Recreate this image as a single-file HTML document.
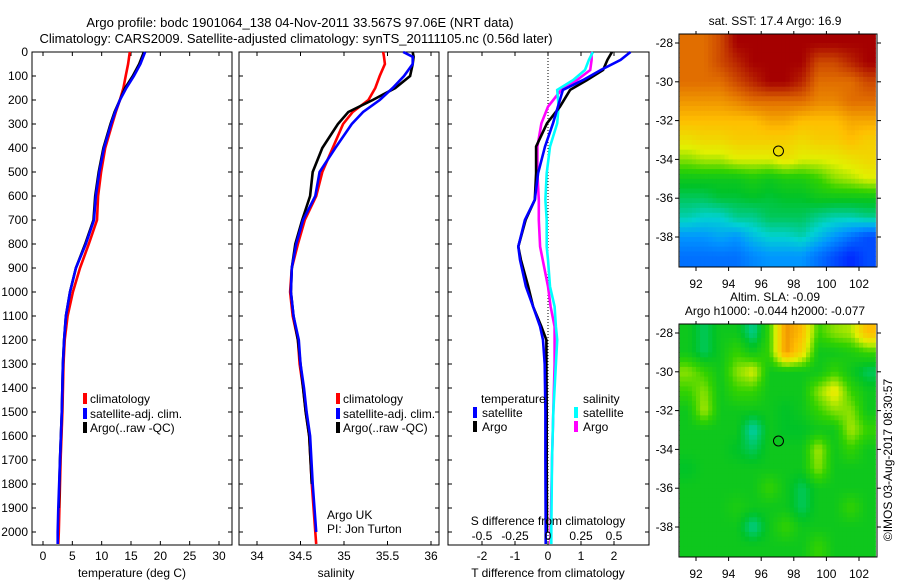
<!DOCTYPE html>
<html><head><meta charset="utf-8"><style>
html,body{margin:0;padding:0;background:#fff;}
svg{display:block;font-family:"Liberation Sans",sans-serif;}
text{font-size:12px;fill:#000;}
</style></head><body>
<svg id="fig" width="900" height="580" viewBox="0 0 900 580">
<text x="300" y="27" text-anchor="middle" style="font-size:13px">Argo profile: bodc 1901064_138 04-Nov-2011 33.567S 97.06E (NRT data)</text>
<text x="296" y="43" text-anchor="middle" style="font-size:13px">Climatology: CARS2009. Satellite-adjusted climatology: synTS_20111105.nc (0.56d later)</text>
<g id="g"></g>
</svg>
<script>
// ---------- data ----------
const tDepth = [0,50,100,150,200,250,300,400,500,600,700,800,900,1000,1100,1200,1300,1500,1700,1900,2000,2050];
const tempClim = [14.8,14.5,14.1,13.7,13.1,12.4,11.8,10.6,9.9,9.4,9.2,7.8,6.3,5.1,4.2,3.7,3.5,3.3,3.0,2.8,2.7,2.6];
const tempSat  = [17.4,16.6,15.5,14.2,13.1,12.3,11.6,10.4,9.6,9.0,8.7,7.3,5.6,4.6,3.9,3.6,3.4,3.2,2.9,2.6,2.5,2.5];
const tempArgo = [17.2,16.4,15.3,14.0,13.1,12.2,11.5,10.3,9.5,8.9,8.6,7.2,5.6,4.6,3.9,3.6,3.4,3.2,2.9,2.7];
const sDepth = [0,20,50,100,150,200,250,300,400,500,600,700,800,900,1000,1100,1200,1300,1400,1500,1600,1800,2000,2050];
const salClim = [35.45,35.46,35.47,35.41,35.36,35.28,35.10,34.99,34.87,34.75,34.68,34.55,34.47,34.40,34.38,34.41,34.47,34.49,34.53,34.56,34.60,34.63,34.67,34.68];
const salSat  = [35.68,35.79,35.79,35.69,35.56,35.41,35.22,35.09,34.90,34.72,34.67,34.53,34.45,34.40,34.39,34.42,34.48,34.50,34.54,34.57,34.61,34.64,34.68];
const salArgo = [35.79,35.80,35.79,35.76,35.59,35.33,35.05,34.93,34.75,34.64,34.61,34.52,34.44,34.40,34.39,34.42,34.47,34.50,34.53,34.56,34.60,34.63];
const dDepth = [0,33,75,117,158,228,297,394,505,616,700,811,866,977,1061,1144,1200,1300,1500,1700,2000,2050];
const dTSat  = [2.5,2.2,1.6,1.06,0.45,0.3,0.15,-0.09,-0.3,-0.4,-0.7,-0.9,-0.85,-0.67,-0.45,-0.24,-0.15,-0.1,-0.08,-0.08,-0.07,-0.07];
const dTArgo = [1.94,1.8,1.67,1.18,0.67,0.36,-0.03,-0.36,-0.36,-0.4,-0.68,-0.9,-0.82,-0.6,-0.45,-0.2,-0.05,-0.05,-0.04,-0.04,-0.03];
const dSSat  = [0.34,0.31,0.28,0.19,0.07,0.08,0.07,0.015,-0.01,-0.02,-0.01,-0.01,0.0,0.015,0.05,0.06,0.07,0.06,0.04,0.03,0.025,0.025];
const dSArgo = [0.33,0.33,0.32,0.22,0.1,0.0,-0.05,-0.08,-0.08,-0.07,-0.07,-0.06,-0.04,0.0,0.02,0.05,0.05,0.05,0.04,0.03,0.02,0.02];
const depthTicks = [0,100,200,300,400,500,600,700,800,900,1000,1100,1200,1300,1400,1500,1600,1700,1800,1900,2000];
const tempTicks = [0,5,10,15,20,25,30];
const salTicks = [34,34.5,35,35.5,36];
const salTickLabels = ["34","34.5","35","35.5","36"];
const dTTicks = [-2,-1,0,1,2];
const dSTicks = [-0.5,-0.25,0,0.25,0.5];
const dSTickLabels = ["-0.5","-0.25","0","0.25","0.5"];
const lonTicks = [92,94,96,98,100,102];
const latTicks = [-28,-30,-32,-34,-36,-38];
const argoLon = 97.06, argoLat = -33.567;
const sstGrid = [
[0.85,0.85,0.9,1,1,1,1,1,1,1,1,1],
[0.85,0.85,0.9,0.95,1,1,1,1,0.9,0.9,0.95,1],
[0.85,0.85,0.85,0.9,0.95,1,1,0.95,0.85,0.85,0.85,0.9],
[0.8,0.8,0.8,0.82,0.85,0.85,0.85,0.85,0.82,0.82,0.85,0.85],
[0.75,0.75,0.75,0.75,0.75,0.78,0.78,0.75,0.75,0.75,0.78,0.78],
[0.68,0.7,0.7,0.72,0.72,0.72,0.72,0.7,0.72,0.72,0.75,0.72],
[0.6,0.62,0.62,0.65,0.65,0.65,0.68,0.65,0.65,0.66,0.68,0.7],
[0.5,0.5,0.5,0.5,0.52,0.5,0.52,0.52,0.55,0.6,0.62,0.65],
[0.45,0.45,0.47,0.47,0.48,0.47,0.48,0.48,0.5,0.5,0.5,0.5],
[0.4,0.38,0.38,0.42,0.42,0.45,0.45,0.45,0.42,0.4,0.4,0.42],
[0.3,0.3,0.32,0.3,0.35,0.38,0.38,0.4,0.35,0.3,0.25,0.2],
[0.25,0.25,0.25,0.25,0.28,0.3,0.3,0.3,0.25,0.2,0.15,0.2]];
const slaGrid = [
[0.5,0.45,0.5,0.5,0.42,0.55,0.8,0.75,0.55,0.6,0.62,0.75],
[0.5,0.45,0.5,0.55,0.5,0.55,0.8,0.7,0.5,0.5,0.52,0.55],
[0.6,0.55,0.5,0.6,0.65,0.5,0.5,0.5,0.5,0.55,0.5,0.45],
[0.55,0.6,0.5,0.55,0.55,0.5,0.5,0.5,0.6,0.68,0.55,0.5],
[0.5,0.62,0.5,0.5,0.5,0.5,0.48,0.5,0.55,0.6,0.6,0.5],
[0.5,0.5,0.5,0.5,0.4,0.5,0.48,0.48,0.5,0.5,0.62,0.55],
[0.5,0.5,0.5,0.48,0.45,0.5,0.5,0.5,0.62,0.5,0.55,0.5],
[0.48,0.5,0.5,0.5,0.5,0.5,0.5,0.5,0.6,0.5,0.5,0.5],
[0.5,0.5,0.5,0.5,0.5,0.55,0.5,0.45,0.5,0.5,0.5,0.5],
[0.5,0.5,0.5,0.52,0.5,0.5,0.5,0.45,0.5,0.5,0.55,0.5],
[0.5,0.5,0.5,0.5,0.42,0.5,0.55,0.5,0.5,0.5,0.5,0.5],
[0.5,0.5,0.5,0.5,0.5,0.5,0.5,0.5,0.55,0.5,0.5,0.5]];

// ---------- helpers ----------
const NS="http://www.w3.org/2000/svg";
const G=document.getElementById('g');
function el(tag,attrs,parent){const e=document.createElementNS(NS,tag);for(const k in attrs)e.setAttribute(k,attrs[k]);(parent||G).appendChild(e);return e;}
function txt(x,y,s,anchor,parent){const t=el('text',{x:x,y:y,'text-anchor':anchor||'start'},parent);t.textContent=s;return t;}
const yD = d => 52 + d*0.24;
const PT=545;
const xTemp = v => 43 + v*5.867;
const xSal = v => 257 + (v-34)*87;
const xDT = v => 548 + v*33;
const xDS = v => 548 + v*132;
const xLon = v => 696 + (v-92)*16.3;
const yLat1 = v => 43 + (-28 - v)*19.4;
const yLat2 = v => 333 + (-28 - v)*19.4;

function frame(x0,x1,name){
  const r=el('rect',{x:x0,y:52,width:x1-x0,height:PT-52,fill:'none',stroke:'#000','stroke-width':1});
  
  
}
function series(xs,fx,depths,color,name){
  const pts=xs.map((v,i)=>fx(v).toFixed(1)+','+yD(depths[i]).toFixed(1)).join(' ');
  const p=el('polyline',{points:pts,fill:'none',stroke:color,'stroke-width':2.6,'stroke-linejoin':'miter'});
  
  
}
function vTicksX(x0,x1,ticks,fx){ticks.forEach(t=>{const x=fx(t);el('line',{x1:x,x2:x,y1:PT,y2:PT-4,stroke:'#000'});el('line',{x1:x,x2:x,y1:52,y2:56,stroke:'#000'});});}
function depthTicksFor(x0,x1){depthTicks.forEach(d=>{const y=yD(d);el('line',{x1:x0,x2:x0+4,y1:y,y2:y,stroke:'#000'});el('line',{x1:x1,x2:x1-4,y1:y,y2:y,stroke:'#000'});});}
function legendMark(x,y,color,name){const r=el('rect',{x:x,y:y-10,width:4,height:11,fill:color});}

// ---------- panel 1 ----------
frame(32,232,'temperature-panel');
depthTicksFor(32,232);
vTicksX(32,232,tempTicks,xTemp);
depthTicks.forEach(d=>{const t=txt(28,yD(d)+4,String(d),'end');});
tempTicks.forEach(v=>{const t=txt(xTemp(v),560,String(v),'middle');});
{const t=txt(132,577,'temperature (deg C)','middle');}
series(tempClim,xTemp,tDepth,'#ff0000','temp-climatology-line');
series(tempArgo,xTemp,tDepth,'#000000','temp-argo-line');
series(tempSat,xTemp,tDepth,'#0000ff','temp-satellite-line');
legendMark(83,403,'#f00','legend-climatology-mark');txt(90,403,'climatology');
legendMark(83,418,'#00f','legend-satellite-mark');txt(90,418,'satellite-adj. clim.');
legendMark(83,432,'#000','legend-argo-mark');txt(90,432,'Argo(..raw -QC)');

// ---------- panel 2 ----------
frame(239,439,'salinity-panel');
depthTicksFor(239,439);
vTicksX(239,439,salTicks,xSal);
salTicks.forEach((v,i)=>{const t=txt(xSal(v),560,salTickLabels[i],'middle');});
{const t=txt(336,577,'salinity','middle');}
series(salClim,xSal,sDepth,'#ff0000','sal-climatology-line');
series(salArgo,xSal,sDepth,'#000000','sal-argo-line');
series(salSat,xSal,sDepth,'#0000ff','sal-satellite-line');
legendMark(336,403,'#f00','legend-climatology-mark-2');txt(343,403,'climatology');
legendMark(336,418,'#00f','legend-satellite-mark-2');txt(343,418,'satellite-adj. clim.');
legendMark(336,432,'#000','legend-argo-mark-2');txt(343,432,'Argo(..raw -QC)');
txt(327,519,'Argo UK');txt(327,533,'PI: Jon Turton');

// ---------- panel 3 ----------
frame(448,649,'difference-panel');
depthTicksFor(448,649);
vTicksX(448,649,dTTicks,xDT);
el('line',{x1:548,x2:548,y1:52,y2:PT,stroke:'#000','stroke-dasharray':'1,2','stroke-width':1});
series(dSArgo,xDS,dDepth,'#ff00ff','dsal-argo-line');
series(dSSat,xDS,dDepth,'#00ffff','dsal-satellite-line');
series(dTArgo,xDT,dDepth,'#000000','dtemp-argo-line');
series(dTSat,xDT,dDepth,'#0000ff','dtemp-satellite-line');
dTTicks.forEach(v=>{const t=txt(xDT(v),560,String(v),'middle');});
dSTicks.forEach((v,i)=>{const t=txt(xDS(v),540,dSTickLabels[i],'middle');});
txt(548,525,'S difference from climatology','middle');
txt(548,577,'T difference from climatology','middle');
txt(481,403,'temperature');txt(583,403,'salinity');
legendMark(473,417,'#00f','legend-dT-satellite-mark');txt(482,417,'satellite');
legendMark(473,431,'#000','legend-dT-argo-mark');txt(482,431,'Argo');
legendMark(574,417,'#0ff','legend-dS-satellite-mark');txt(583,417,'satellite');
legendMark(574,431,'#f0f','legend-dS-argo-mark');txt(583,431,'Argo');

// ---------- maps ----------
const stops=[[0,[0,0,140]],[0.15,[0,40,255]],[0.3,[0,150,255]],[0.38,[0,210,210]],[0.48,[0,195,40]],[0.55,[50,210,0]],[0.65,[225,240,0]],[0.75,[255,190,0]],[0.85,[225,110,0]],[1,[165,0,0]]];
function cmap(v){for(let i=1;i<stops.length;i++){if(v<=stops[i][0]){const a=stops[i-1],b=stops[i],f=(v-a[0])/(b[0]-a[0]);const c=a[1].map((x,k)=>Math.round(x+(b[1][k]-x)*f));return 'rgb('+c.join(',')+')';}}return 'rgb(165,0,0)';}
function sample(grid,r,c){
  const n=grid.length,m=grid[0].length;
  r=Math.min(Math.max(r,0),n-1);c=Math.min(Math.max(c,0),m-1);
  const r0=Math.floor(r),c0=Math.floor(c),r1=Math.min(r0+1,n-1),c1=Math.min(c0+1,m-1),fr=r-r0,fc=c-c0;
  return grid[r0][c0]*(1-fr)*(1-fc)+grid[r0][c1]*(1-fr)*fc+grid[r1][c0]*fr*(1-fc)+grid[r1][c1]*fr*fc;
}
function drawMap(grid,top,yLat,name){
  const g=el('g',{});
  
  
  const S=4;
  for(let r=0;r<grid.length*S;r++)for(let c=0;c<grid[0].length*S;c++){
    const v=sample(grid,(r+0.5)/S-0.5,(c+0.5)/S-0.5);
    const lon0=91+c/S, lat0=-27.5-r/S;
    const x=Math.max(679,xLon(lon0)), x2=Math.min(877,xLon(lon0+1/S));
    const y=Math.max(top,yLat(lat0)), y2=Math.min(top+233,yLat(lat0-1/S));
    if(x2<=x||y2<=y)continue;
    const cell=el('rect',{x:x.toFixed(1),y:y.toFixed(1),width:(x2-x+0.6).toFixed(1),height:(y2-y+0.6).toFixed(1),fill:cmap(v)},g);
    
    
  }
  el('rect',{x:679,y:top,width:198,height:233,fill:'none',stroke:'#000'});
  lonTicks.forEach(l=>{const x=xLon(l);el('line',{x1:x,x2:x,y1:top,y2:top-3,stroke:'#000'});el('line',{x1:x,x2:x,y1:top+233,y2:top+237,stroke:'#000'});const t=txt(x,top+254,String(l),'middle');});
  latTicks.forEach(l=>{const y=yLat(l);el('line',{x1:679,x2:675,y1:y,y2:y,stroke:'#000'});el('line',{x1:877,x2:881,y1:y,y2:y,stroke:'#000'});const t=txt(673,y+4,String(l),'end');});
  const c=el('circle',{cx:xLon(argoLon),cy:yLat(argoLat),r:5,fill:'none',stroke:'#000','stroke-width':1});
  
  
}
drawMap(sstGrid,34,yLat1,'sst-map');
drawMap(slaGrid,324,yLat2,'sla-map');
txt(775,25,'sat. SST: 17.4 Argo: 16.9','middle');
txt(775,301,'Altim. SLA: -0.09','middle');
txt(775,315,'Argo h1000: -0.044 h2000: -0.077','middle');
{const t=txt(0,0,'©IMOS 03-Aug-2017 08:30:57','middle');t.setAttribute('transform','translate(892,460) rotate(-90)');}
</script>
</body></html>
